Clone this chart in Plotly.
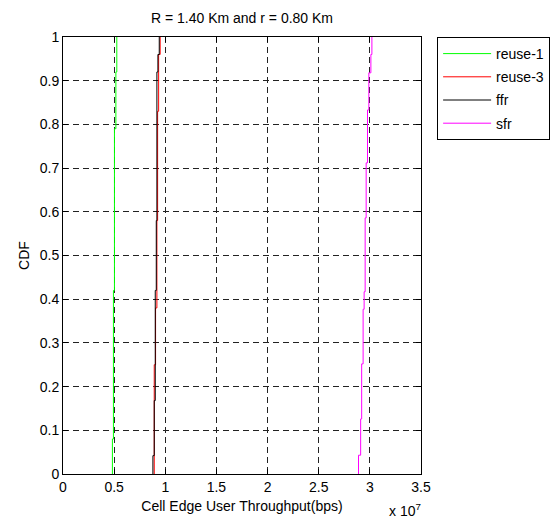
import plotly.graph_objects as go

# Step CDF data: throughput value of each step (bps) and the CDF level reached at that step
reuse1_x = [0.483e7, 0.493e7, 0.503e7, 0.517e7, 0.526e7]
reuse1_cdf = [0.08, 0.42, 0.79, 0.92, 1.0]

reuse3_x = [0.892e7, 0.905e7, 0.918e7, 0.925e7, 0.935e7, 0.950e7]
reuse3_cdf = [0.25, 0.38, 0.58, 0.83, 0.96, 1.0]

ffr_x = [0.879e7, 0.892e7, 0.902e7, 0.912e7, 0.918e7, 0.928e7, 0.941e7]
ffr_cdf = [0.042, 0.168, 0.42, 0.58, 0.92, 0.96, 1.0]

sfr_x = [2.889e7, 2.910e7, 2.920e7, 2.934e7, 2.944e7, 2.954e7, 2.964e7,
         2.977e7, 2.990e7, 3.010e7, 3.020e7]
sfr_cdf = [0.043, 0.126, 0.252, 0.377, 0.417, 0.586, 0.712, 0.833, 0.918, 0.96, 1.0]

series = [
    ("reuse-1", reuse1_x, reuse1_cdf, "#00ff00"),
    ("reuse-3", reuse3_x, reuse3_cdf, "#ff0000"),
    ("ffr", ffr_x, ffr_cdf, "#000000"),
    ("sfr", sfr_x, sfr_cdf, "#ff00ff"),
]

x_tickvals = [0, 0.5e7, 1e7, 1.5e7, 2e7, 2.5e7, 3e7, 3.5e7]
x_ticktext = ["0", "0.5", "1", "1.5", "2", "2.5", "3", "3.5"]
y_tickvals = [0, 0.1, 0.2, 0.3, 0.4, 0.5, 0.6, 0.7, 0.8, 0.9, 1.0]
y_ticktext = ["0", "0.1", "0.2", "0.3", "0.4", "0.5", "0.6", "0.7", "0.8", "0.9", "1"]

FONT = "Liberation Sans, Arial, sans-serif"

fig = go.Figure()
for name, xs, cdf, color in series:
    px = [xs[0]] + list(xs)
    py = [0.0] + list(cdf)
    fig.add_trace(go.Scatter(
        x=px, y=py, mode="lines", name=name, legendgroup=name,
        line=dict(color=color, width=1, shape="hv"),
    ))

axis_common = dict(
    showline=True, linecolor="black", linewidth=1, mirror="ticks",
    ticks="inside", ticklen=5, tickcolor="black", tickwidth=1,
    showgrid=True, gridcolor="#222222", gridwidth=1, griddash="6px,4px",
    zeroline=False, tickfont=dict(family=FONT, size=14, color="black"),
)

fig.update_xaxes(range=[0, 3.5e7], tickvals=x_tickvals, ticktext=x_ticktext,
                 title=dict(text="Cell Edge User Throughput(bps)",
                            font=dict(family=FONT, size=14, color="black"), standoff=7),
                 **axis_common)
fig.update_yaxes(range=[0, 1], tickvals=y_tickvals, ticktext=y_ticktext,
                 title=dict(text="CDF", font=dict(family=FONT, size=14, color="black"), standoff=6),
                 **axis_common)

fig.add_annotation(text="x 10<sup>7</sup>", xref="paper", yref="paper",
                   x=0.905, y=-0.108, xanchor="left", yanchor="bottom", showarrow=False,
                   font=dict(family=FONT, size=14, color="black"))

fig.update_layout(
    width=550, height=525,
    margin=dict(l=63, r=129, t=37, b=51, autoexpand=False),
    paper_bgcolor="white", plot_bgcolor="white",
    title=dict(text="R = 1.40 Km and r = 0.80 Km", x=(63 + 421) / 2 / 550, xanchor="center",
               y=1 - 18 / 525, yanchor="middle",
               font=dict(family=FONT, size=14, color="black")),
    legend=dict(x=1.045, y=1, xanchor="left", yanchor="top",
                bordercolor="black", borderwidth=1, bgcolor="white",
                font=dict(family=FONT, size=14, color="black"),
                traceorder="grouped", tracegroupgap=2, itemwidth=48),
    showlegend=True,
)

fig.write_html("out.html")
